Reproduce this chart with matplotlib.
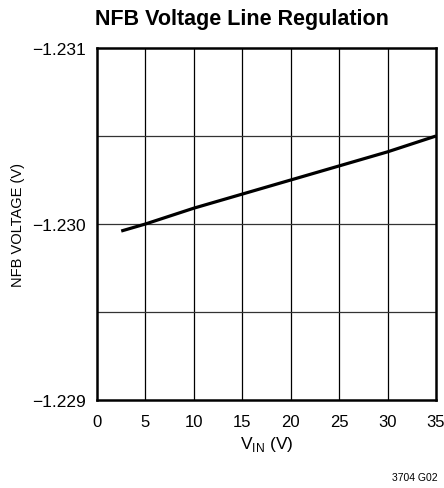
import matplotlib
matplotlib.use('Agg')
import matplotlib.pyplot as plt
from matplotlib import font_manager

# pick a narrow sans if available
names = {f.name for f in font_manager.fontManager.ttflist}
FONT = 'Liberation Sans Narrow' if 'Liberation Sans Narrow' in names else 'Liberation Sans'
plt.rcParams['font.family'] = [FONT, 'DejaVu Sans']

# DATA
vin = [2.5, 5, 10, 15, 20, 25, 30, 35]
nfb = [-1.22996, -1.23000, -1.23009, -1.23017, -1.23025, -1.23033, -1.23041, -1.23050]
x_ticks = [0, 5, 10, 15, 20, 25, 30, 35]
y_ticks = [-1.231, -1.230, -1.229]
y_grid = [-1.2305, -1.2300, -1.2295]

fig = plt.figure(figsize=(4.44, 4.89), dpi=100)
ax = fig.add_axes([97 / 444, 88 / 489, 339 / 444, 352 / 489])

ax.plot(vin, nfb, color='black', lw=2.3, solid_capstyle='butt', zorder=3)

ax.set_xlim(0, 35)
ax.set_ylim(-1.229, -1.231)
ax.set_xticks(x_ticks)
ax.set_yticks(y_ticks)
ax.set_yticklabels(['\u22121.231', '\u22121.230', '\u22121.229'])
ax.tick_params(axis='y', length=0, labelsize=12.5, pad=8)
ax.tick_params(axis='x', length=0, labelsize=12, pad=10)

for xv in x_ticks[1:-1]:
    ax.axvline(xv, color='black', lw=0.9, zorder=1)
for yv in y_grid:
    ax.axhline(yv, color='#333333', lw=0.9, zorder=1)

for s in ax.spines.values():
    s.set_linewidth(1.8)

ax.set_xlabel('V$_{\\mathregular{IN}}$ (V)', fontsize=12.5, labelpad=4)
ax.set_ylabel('NFB VOLTAGE (V)', fontsize=10.5, labelpad=5)
fig.text(242 / 444, 1 - 20 / 489, 'NFB Voltage Line Regulation', ha='center', va='center',
         fontsize=15.5, fontweight='bold')
fig.text(415 / 444, 1 - 478 / 489, '3704 G02', ha='center', va='center', fontsize=7.5)

fig.savefig('out.png', dpi=100)
